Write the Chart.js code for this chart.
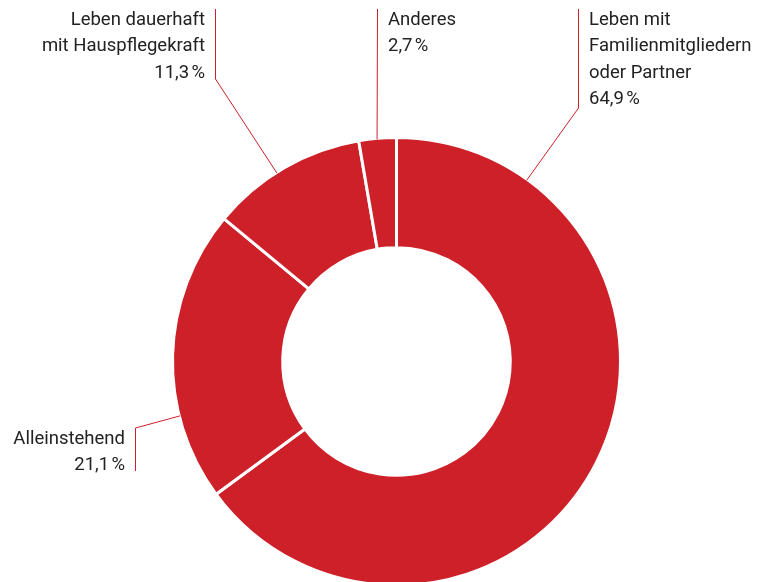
<!DOCTYPE html>
<html lang="de">
<head>
<meta charset="utf-8">
<title>Wohnsituation</title>
<script src="https://cdn.jsdelivr.net/npm/chart.js@4/dist/chart.umd.min.js"></script>
<style>
  html, body { margin: 0; padding: 0; background: #fff; overflow: hidden; }
  #wrap { position: relative; width: 763px; height: 600px; }
</style>
</head>
<body>
<div id="wrap"><canvas id="chart"></canvas></div>
<script>
// Wohnsituation – Anteile in Prozent
const categories = [
  ['Leben mit', 'Familienmitgliedern', 'oder Partner'],
  ['Alleinstehend'],
  ['Leben dauerhaft', 'mit Hauspflegekraft'],
  ['Anderes']
];
const shares = [64.9, 21.1, 11.3, 2.7];
const shareLabels = ['64,9\u202F%', '21,1\u202F%', '11,3\u202F%', '2,7\u202F%'];

const RED = '#cd2029';
const TEXT = '#222222';

// Beschriftungen mit Führungslinien: Ankerwinkel am Außenrand (Grad, im Uhrzeigersinn ab 12 Uhr),
// Knickpunkte der Linie und Textposition
const callouts = [
  { angle: 35.7,  path: [[578.5, 108], [578.5, 9]],  text: [589, 20], align: 'left'  },
  { angle: 255.9, path: [[135.5, 428], [135.5, 471]], text: [125, 439], align: 'right' },
  { angle: 327.6, path: [[215.5, 79], [215.5, 9]],   text: [205, 20], align: 'right' },
  { angle: 355.0, path: [[377.5, 9]],                text: [388, 20], align: 'left'  }
];
const LINE_H = 26.5;

const calloutPlugin = {
  id: 'callouts',
  afterDraw(chart) {
    const ctx = chart.ctx;
    const arcs = chart.getDatasetMeta(0).data;
    ctx.save();
    callouts.forEach((c, i) => {
      const arc = arcs[i];
      const { x, y, outerRadius } = arc.getProps(['x', 'y', 'outerRadius'], true);
      const a = (c.angle - 90) * Math.PI / 180;
      const r = outerRadius - 1;
      ctx.beginPath();
      ctx.moveTo(x + r * Math.cos(a), y + r * Math.sin(a));
      c.path.forEach(p => ctx.lineTo(p[0], p[1]));
      ctx.strokeStyle = RED;
      ctx.lineWidth = 1;
      ctx.stroke();

      const lines = categories[i].concat([shareLabels[i]]);
      ctx.fillStyle = TEXT;
      ctx.font = '18.5px Roboto, "Liberation Sans", sans-serif';
      ctx.textAlign = c.align;
      ctx.textBaseline = 'middle';
      lines.forEach((t, k) => ctx.fillText(t, c.text[0], c.text[1] + k * LINE_H));
    });
    ctx.restore();
  }
};

new Chart(document.getElementById('chart'), {
  type: 'doughnut',
  data: {
    labels: categories.map(c => c.join(' ')),
    datasets: [{
      data: shares,
      backgroundColor: RED,
      borderColor: '#ffffff',
      borderWidth: 3,
      hoverOffset: 0
    }]
  },
  options: {
    responsive: true,
    maintainAspectRatio: false,
    animation: false,
    cutout: '50.8%',
    layout: { padding: { left: 171, right: 141, top: 136, bottom: 13 } },
    plugins: { legend: { display: false }, tooltip: { enabled: false } }
  },
  plugins: [calloutPlugin]
});
</script>
</body>
</html>
